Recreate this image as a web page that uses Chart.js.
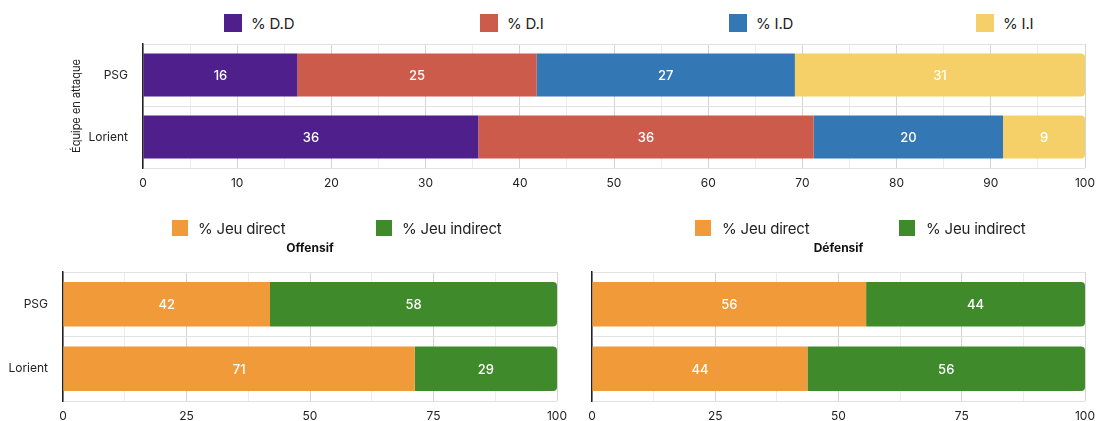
<!DOCTYPE html>
<html>
<head>
<meta charset="utf-8">
<script src="https://cdn.jsdelivr.net/npm/chart.js@4.4.1/dist/chart.umd.min.js"></script>
<style>
body{margin:0;width:1098px;height:421px;position:relative;background:#fff;font-family:Inter,sans-serif;overflow:hidden}
.wrap{position:absolute}
.leg{position:absolute;display:flex;align-items:center;font-size:15px;color:#222;white-space:nowrap;letter-spacing:-0.2px}
.leg i{display:inline-block}
</style>
</head>
<body>
<div class="wrap" style="left:0;top:40px;width:1098px;height:155px"><canvas id="chartTop"></canvas></div>
<div class="wrap" style="left:0;top:236px;width:620px;height:185px"><canvas id="chartOff"></canvas></div>
<div class="wrap" style="left:579px;top:236px;width:519px;height:185px"><canvas id="chartDef"></canvas></div>
<script>
// data
const teams = ['PSG', 'Lorient']
const typeLabels = ['% D.D', '% D.I', '% I.D', '% I.I']
const ddValues = [16.4, 35.6]
const diValues = [25.4, 35.6]
const idValues = [27.4, 20.1]
const iiValues = [30.8, 8.7]

const jeuLabels = ['% Jeu direct', '% Jeu indirect']
const offDirect = [41.9, 71.2]
const offIndirect = [58.1, 28.8]
const defDirect = [55.6, 43.7]
const defIndirect = [44.4, 56.3]

const typeColors = ['#4f1f8b', '#cc5b4c', '#3477b5', '#f5cf67']
const jeuColors = ['#f09a3a', '#3f8b2b']

Chart.defaults.font.family = 'Inter'
Chart.defaults.color = '#333'

// white value in the middle of each segment
const valueLabels = {
    id: 'valueLabels',
    afterDatasetsDraw(chart) {
        const ctx = chart.ctx
        ctx.save()
        ctx.fillStyle = '#fff'
        ctx.font = '500 13px Inter'
        ctx.textAlign = 'center'
        ctx.textBaseline = 'middle'
        chart.data.datasets.forEach((ds, i) => {
            chart.getDatasetMeta(i).data.forEach((bar, j) => {
                const p = bar.getCenterPoint()
                ctx.fillText(Math.round(ds.data[j]), p.x, p.y + 1)
            })
        })
        ctx.restore()
    }
}

function makeDatasets(labels, colors, series) {
    return series.map((values, i) => ({
        label: labels[i],
        data: values,
        backgroundColor: colors[i],
        borderWidth: 0,
        borderRadius: i === series.length - 1 ? 4 : 0,
        barPercentage: 0.69,
        categoryPercentage: 1
    }))
}

function xScale(step, major, height) {
    return {
        stacked: true,
        min: 0,
        max: 100,
        afterFit: s => {
            s.height = height
            s.paddingLeft = 0
            s.paddingRight = 0
        },
        ticks: {
            stepSize: step,
            autoSkip: false,
            maxRotation: 0,
            padding: 8,
            font: {size: 12},
            color: '#222',
            callback: v => v % major === 0 ? v : ''
        },
        grid: {
            drawTicks: false,
            color: c => c.tick && c.tick.value % major === 0 ? '#d4d4d4' : '#ececec'
        },
        border: {display: false}
    }
}

function yScale(width, showLabels, title) {
    return {
        stacked: true,
        afterFit: s => {
            s.width = width
            s.paddingTop = 0
            s.paddingBottom = 0
        },
        ticks: {display: showLabels, padding: 15, font: {size: 12}, color: '#222'},
        grid: {drawTicks: false, color: '#e2e2e2'},
        border: {color: '#222', width: 1.5},
        title: title ? {display: true, text: title, font: {size: 11}, color: '#222', padding: {top: 4, bottom: 4}} : {display: false}
    }
}

function addLegend(labels, colors, lefts, top, box, gap) {
    labels.forEach((label, i) => {
        const item = document.createElement('div')
        item.className = 'leg'
        item.style.left = lefts[i] + 'px'
        item.style.top = top + 'px'
        item.style.height = box + 'px'
        const sw = document.createElement('i')
        sw.style.width = box + 'px'
        sw.style.height = box + 'px'
        sw.style.background = colors[i]
        sw.style.marginRight = gap + 'px'
        item.appendChild(sw)
        item.appendChild(document.createTextNode(label))
        document.body.appendChild(item)
    })
}

let chartTop = new Chart(document.querySelector('#chartTop'), {
    type: 'bar',
    data: {
        labels: teams,
        datasets: makeDatasets(typeLabels, typeColors, [ddValues, diValues, idValues, iiValues])
    },
    options: {
        indexAxis: 'y',
        responsive: true,
        maintainAspectRatio: false,
        animation: false,
        layout: {padding: {left: 66, right: 13, top: 4, bottom: 0}},
        plugins: {legend: {display: false}, tooltip: {enabled: false}},
        scales: {
            x: xScale(5, 10, 27),
            y: yScale(77, true, 'Équipe en attaque')
        }
    },
    plugins: [valueLabels]
})

function jeuChart(sel, title, direct, indirect, padLeft, padRight, yWidth, showLabels) {
    return new Chart(document.querySelector(sel), {
        type: 'bar',
        data: {
            labels: teams,
            datasets: makeDatasets(jeuLabels, jeuColors, [direct, indirect])
        },
        options: {
            indexAxis: 'y',
            responsive: true,
            maintainAspectRatio: false,
            animation: false,
            layout: {padding: {left: padLeft, right: padRight, top: 0, bottom: 0}},
            plugins: {
                legend: {display: false},
                tooltip: {enabled: false},
                title: {
                    display: true,
                    text: title,
                    fullSize: false,
                    color: '#111',
                    font: {size: 12, weight: 'bold'},
                    padding: {top: 5, bottom: 16.6}
                }
            },
            scales: {
                x: xScale(12.5, 25, 20),
                y: yScale(yWidth, showLabels)
            }
        },
        plugins: [valueLabels]
    })
}

let chartOff = jeuChart('#chartOff', 'Offensif', offDirect, offIndirect, 0, 63, 63, true)
let chartDef = jeuChart('#chartDef', 'Défensif', defDirect, defIndirect, 13, 13, 0, false)

addLegend(typeLabels, typeColors, [224, 480, 729, 976], 14, 18, 9)
addLegend(jeuLabels, jeuColors, [172, 376], 220, 16, 10)
addLegend(jeuLabels, jeuColors, [695, 899], 220, 16, 11)
</script>
</body>
</html>
